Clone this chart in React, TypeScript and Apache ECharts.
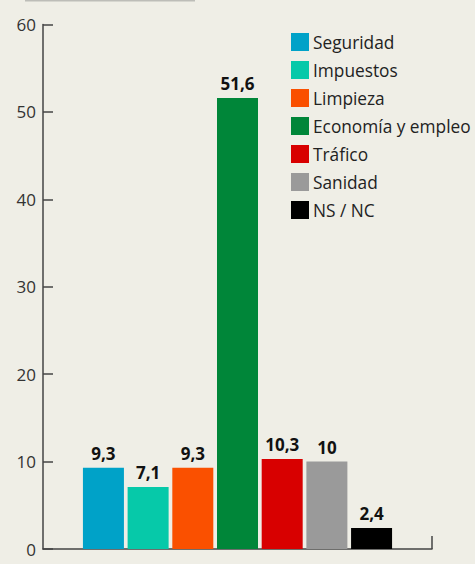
import React, { useEffect, useRef } from "react";
import * as echarts from "echarts";

const seriesNames = ["Seguridad", "Impuestos", "Limpieza", "Economía y empleo", "Tráfico", "Sanidad", "NS / NC"];
const seriesValues = [9.3, 7.1, 9.3, 51.6, 10.3, 10, 2.4];
const seriesColors = ["#00a2c8", "#06c9a9", "#fa5000", "#008639", "#d80000", "#9a9a9a", "#000000"];
const categories = [""];
const yTicks = { min: 0, max: 60, interval: 10 };

export default function App() {
  const ref = useRef<HTMLDivElement>(null);
  useEffect(() => {
    if (!ref.current) return;
    const chart = echarts.init(ref.current, undefined, { renderer: "svg" });
    chart.setOption({
      animation: false,
      backgroundColor: "#efeee6",
      textStyle: { fontFamily: "Open Sans" },
      grid: { left: 43, right: 43, top: 24.5, bottom: 15, containLabel: false },
      legend: {
        orient: "vertical",
        left: 291,
        top: 33,
        padding: 0,
        itemWidth: 18,
        itemHeight: 18,
        itemGap: 10,
        icon: "rect",
        textStyle: { fontSize: 17.3, color: "#222", fontFamily: "Open Sans", padding: [0, 0, 0, -1] },
        data: seriesNames,
      },
      xAxis: {
        type: "category",
        data: categories,
        axisLine: { show: true, lineStyle: { color: "#444", width: 1.5 } },
        axisTick: { show: false },
        axisLabel: { show: false },
      },
      yAxis: {
        type: "value",
        min: yTicks.min,
        max: yTicks.max,
        interval: yTicks.interval,
        splitLine: { show: false },
        axisLine: { show: true, lineStyle: { color: "#444", width: 1.5 } },
        axisTick: { show: true, inside: true, length: 10, lineStyle: { color: "#444", width: 1.5 } },
        axisLabel: { fontSize: 17, color: "#333", margin: 7, fontFamily: "Open Sans" },
      },
      graphic: [
        { type: "line", shape: { x1: 25, y1: 0.5, x2: 195, y2: 0.5 }, style: { stroke: "#bdbdb8", lineWidth: 2 } },
        { type: "line", shape: { x1: 432, y1: 536, x2: 432, y2: 549 }, style: { stroke: "#444", lineWidth: 1.5 } },
      ],
      series: seriesNames.map((name, i) => ({
        name,
        type: "bar",
        data: [seriesValues[i]],
        barWidth: 41,
        barGap: "9%",
        itemStyle: { color: seriesColors[i] },
        label: {
          show: true,
          position: "top",
          distance: 6,
          fontSize: 17,
          fontWeight: "bold",
          color: "#111",
          fontFamily: "Open Sans",
          formatter: (p: any) => String(p.value).replace(".", ","),
        },
      })),
    });
    return () => chart.dispose();
  }, []);
  return <div ref={ref} style={{ width: 475, height: 564, position: "absolute", left: 0, top: 0 }} />;
}
